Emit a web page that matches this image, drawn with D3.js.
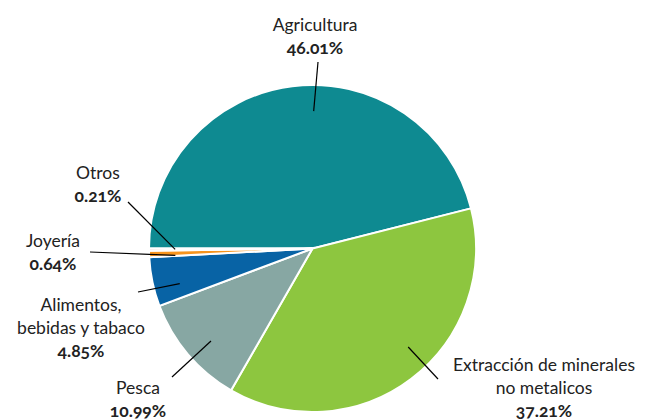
<!DOCTYPE html>
<html>
<head>
<meta charset="utf-8">
<script src="https://cdn.jsdelivr.net/npm/d3@7"></script>
<style>
  body { margin: 0; background: #fff; }
  text { font-family: Lato, "Open Sans", sans-serif; fill: #222; }
  .pct { font-weight: bold; font-variant-numeric: oldstyle-nums; }
</style>
</head>
<body>
<div id="chart"></div>
<script>
// sectores (orden horario empezando a las 9)
const sectors = ['Agricultura', 'Extracción de minerales no metalicos', 'Pesca',
  'Alimentos, bebidas y tabaco', 'Joyería', 'Otros'];
const shares = [46.01, 37.21, 10.99, 4.85, 0.64, 0.21];
const colors = ['#0e8a91', '#8dc63f', '#87a7a3', '#0863a5', '#f7941d', '#dfb0b0'];

// label layout: text lines, anchor, leader end and angle nudge (deg)
const labelLines = [
  ['Agricultura'],
  ['Extracción de minerales', 'no metalicos'],
  ['Pesca'],
  ['Alimentos,', 'bebidas y tabaco'],
  ['Joyería'],
  ['Otros'],
];
const labelPos = [[315, 31], [544, 371], [138, 394], [81, 311], [53, 247], [98, 179]];
const lineEnd = [[318, 62], [438, 379], [172, 377], [138, 292], [90, 252], [128, 202]];
const nudge = [7.6, -7, -2, -3, -1, 0];

const width = 646, height = 420;
const cx = 312.5, cy = 248.5, r = 163.5;
const lineH = 23;

const svg = d3.select('#chart').append('svg')
    .attr('width', width)
    .attr('height', height);

const data = sectors.map((s, i) => ({name: s, value: shares[i], i: i}));

const pie = d3.pie()
    .sort(null)
    .value(d => d.value)
    .startAngle(-Math.PI / 2)
    .endAngle(3 * Math.PI / 2);

const arc = d3.arc().innerRadius(0).outerRadius(r);
const arcs = pie(data);

const g = svg.append('g').attr('transform', `translate(${cx},${cy})`);

g.selectAll('path')
  .data(arcs)
  .join('path')
    .attr('d', arc)
    .attr('fill', d => colors[d.data.i])
    .attr('stroke', '#fff')
    .attr('stroke-width', 2);

// leader lines
const rIn = r * 0.84;
function inner(d) {
  const a = (d.startAngle + d.endAngle) / 2 + nudge[d.data.i] * Math.PI / 180;
  return [cx + rIn * Math.sin(a), cy - rIn * Math.cos(a)];
}
svg.selectAll('line.leader')
  .data(arcs)
  .join('line')
    .attr('class', 'leader')
    .attr('x1', d => inner(d)[0])
    .attr('y1', d => inner(d)[1])
    .attr('x2', d => lineEnd[d.data.i][0])
    .attr('y2', d => lineEnd[d.data.i][1])
    .attr('stroke', '#000')
    .attr('stroke-width', 1.2);

// labels
const lab = svg.selectAll('text.label')
  .data(data)
  .join('text')
    .attr('class', 'label')
    .attr('text-anchor', 'middle')
    .attr('font-size', 17.5);

lab.each(function(d) {
  const t = d3.select(this);
  const [x, y] = labelPos[d.i];
  const lines = labelLines[d.i];
  lines.forEach((l, k) => {
    t.append('tspan').attr('x', x).attr('y', y + k * lineH).text(l);
  });
  t.append('tspan')
      .attr('class', 'pct')
      .attr('x', x)
      .attr('y', y + lines.length * lineH)
      .text(d.value.toFixed(2) + '%');
});
</script>
</body>
</html>
